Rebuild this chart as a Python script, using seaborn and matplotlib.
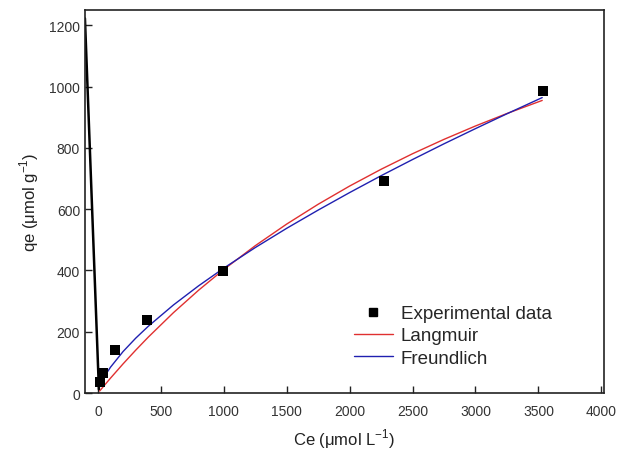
import matplotlib
matplotlib.use("Agg")
import matplotlib.pyplot as plt
import seaborn as sns
import pandas as pd
from matplotlib.lines import Line2D

# Experimental data
ce_exp = [14, 40, 135, 393, 990, 2277, 3537]
qe_exp = [37, 65, 140, 238, 399, 691, 986]

# Langmuir fit curve
ce_lang = [14, 50, 100, 200, 300, 400, 600, 800, 1000, 1250, 1500, 1750,
           2000, 2250, 2500, 2750, 3000, 3250, 3530]
qe_lang = [7, 24.7, 48.9, 95.5, 140.0, 182.6, 262.4, 335.7, 403.3, 480.8,
           551.4, 616.0, 675.4, 730.1, 780.8, 827.7, 871.3, 912.0, 954.6]

# Freundlich fit curve
ce_freu = [40, 60, 100, 200, 300, 400, 600, 800, 1000, 1250, 1500, 1750,
           2000, 2250, 2500, 2750, 3000, 3250, 3530]
qe_freu = [45.2, 59.6, 84.6, 135.7, 179.1, 218.0, 287.5, 350.0, 407.6, 474.7,
           537.6, 597.0, 654.1, 709.1, 761.9, 813.2, 862.7, 911.1, 963.9]

# stray black line in the original figure
ce_stray = [-103, 8]
qe_stray = [1222, 12]

sns.set_style("white")
plt.rcParams['font.family'] = ['Liberation Sans', 'DejaVu Sans']
plt.rcParams['mathtext.fontset'] = 'custom'
plt.rcParams['mathtext.rm'] = 'Liberation Sans'

fig = plt.figure(figsize=(6.2, 4.52), dpi=100)
ax = fig.add_axes([0.137, 0.128, 0.837, 0.848])

df_exp = pd.DataFrame({"Ce": ce_exp, "qe": qe_exp})
df_lang = pd.DataFrame({"Ce": ce_lang, "qe": qe_lang})
df_freu = pd.DataFrame({"Ce": ce_freu, "qe": qe_freu})
df_stray = pd.DataFrame({"Ce": ce_stray, "qe": qe_stray})

sns.lineplot(data=df_stray, x="Ce", y="qe", ax=ax, color="black", lw=1.8,
             sort=False, estimator=None)
sns.lineplot(data=df_lang, x="Ce", y="qe", ax=ax, color="#e03030", lw=1.0,
             sort=False, estimator=None)
sns.lineplot(data=df_freu, x="Ce", y="qe", ax=ax, color="#2020b0", lw=1.0,
             sort=False, estimator=None)
sns.scatterplot(data=df_exp, x="Ce", y="qe", ax=ax, marker="s", s=42,
                color="black", edgecolor="black", linewidth=0, zorder=5)

ax.set_xlim(-103, 4020)
ax.set_ylim(0, 1250)
ax.set_xticks([0, 500, 1000, 1500, 2000, 2500, 3000, 3500, 4000])
ax.set_yticks([0, 200, 400, 600, 800, 1000, 1200])
ax.tick_params(direction="in", length=5, width=1, colors="#222222",
               labelsize=10, labelcolor="#333333", bottom=True, left=True,
               top=False, right=False)
ax.tick_params(axis="x", pad=8)
for sp in ax.spines.values():
    sp.set_color("#222222")
    sp.set_linewidth(1.2)

ax.set_xlabel("Ce (μmol L$^{\\mathregular{-1}}$)", fontsize=12, color="#222222",
              labelpad=6)
ax.set_ylabel("qe (μmol g$^{\\mathregular{-1}}$)", fontsize=12, color="#222222",
              labelpad=6)

handles = [
    Line2D([], [], marker="s", color="black", linestyle="none", markersize=6),
    Line2D([], [], color="#e03030", lw=1.0),
    Line2D([], [], color="#2020b0", lw=1.0),
]
labels = ["Experimental data", "Langmuir", "Freundlich"]
ax.legend(handles, labels, loc="upper left", bbox_to_anchor=(0.518, 0.23),
          frameon=False, fontsize=13.5, handlelength=2.1, handletextpad=0.4,
          labelspacing=0.28, borderaxespad=0, borderpad=0)

fig.savefig("out.png", dpi=100)
